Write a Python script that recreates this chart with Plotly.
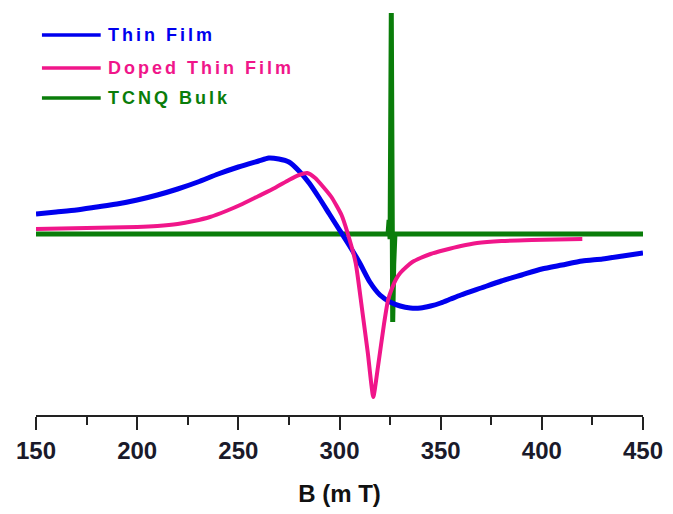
import plotly.graph_objects as go

# Thin Film (blue)
thin_B = [150, 160, 170, 180, 190, 200, 210, 220, 230, 240, 250, 260, 265, 270, 275, 280, 285, 290, 295, 300,
          305, 310, 315, 320, 325, 330, 335, 340, 345, 350, 355, 360, 370, 380, 390, 400, 410, 420, 430, 440, 450]
thin_I = [20, 22, 24, 27, 30, 34, 39, 45, 52, 60, 67, 73, 76, 75, 72, 63, 51, 36, 20, 4,
          -12, -29, -48, -61, -68, -72, -74, -74, -72, -69, -65, -61, -54, -47, -41, -35, -31, -27, -25, -22, -19]

# Doped Thin Film (pink)
doped_B = [150, 175, 200, 210, 220, 228, 236, 244, 252, 260, 268, 275, 280, 284, 288, 292, 296, 301, 304, 308,
           311, 314, 316.7, 319, 322, 324, 326, 328, 330, 333, 336, 340, 345, 352, 360, 368, 380, 395, 420]
doped_I = [5, 6, 7, 8, 10, 13, 17, 23, 30, 38, 46, 54, 59, 61, 56, 47, 37, 19, 1, -29,
           -73, -119, -163, -133, -90, -66, -54, -45, -39, -33, -28, -24, -20, -16, -12, -9, -7, -6, -5]

# TCNQ Bulk (green)
tcnq_B = [150, 324.0, 324.5, 325.0, 325.6, 326.3, 326.8, 327.4, 450]
tcnq_I = [0, 0, 14, -5, 221, -88, -30, 0, 0]

x_ticks = [150, 200, 250, 300, 350, 400, 450]

names = ["Thin Film", "Doped Thin Film", "TCNQ Bulk"]
colors = ["#0000ee", "#f0168a", "#0a7d0a"]

fig = go.Figure()
fig.add_trace(go.Scatter(x=tcnq_B, y=tcnq_I, mode="lines", line=dict(color=colors[2], width=5),
                         name=names[2], showlegend=False))
fig.add_trace(go.Scatter(x=thin_B, y=thin_I, mode="lines", line=dict(color=colors[0], width=5, shape="spline", smoothing=0.6),
                         name=names[0], showlegend=False))
fig.add_trace(go.Scatter(x=doped_B, y=doped_I, mode="lines", line=dict(color=colors[1], width=4, shape="spline", smoothing=0.5),
                         name=names[1], showlegend=False))

# manual legend
row_y = [0.938, 0.857, 0.783]
for nm, col, yy in zip(names, colors, row_y):
    fig.add_shape(type="line", xref="paper", yref="paper", x0=0.0098, x1=0.1066, y0=yy, y1=yy,
                  line=dict(color=col, width=3.5))
    fig.add_annotation(xref="paper", yref="paper", x=0.1148, y=yy, xanchor="left", yanchor="middle",
                       text=f"<span style='letter-spacing:3px'><b>{nm}</b></span>", showarrow=False,
                       font=dict(family="Liberation Sans, Arial", size=18, color=col))

fig.update_layout(
    width=673, height=514, autosize=False,
    margin=dict(l=36, r=27, t=10, b=99),
    plot_bgcolor="white", paper_bgcolor="white",
    showlegend=False,
    font=dict(family="Liberation Sans, Arial", color="#1a1a1a"),
)
fig.update_xaxes(
    range=[150, 450], tickvals=x_ticks, ticktext=[str(v) for v in x_ticks],
    showline=True, linecolor="#222", linewidth=2, mirror=False,
    ticks="outside", ticklen=13, tickwidth=2, tickcolor="#222",
    minor=dict(dtick=25, tick0=150, ticks="outside", ticklen=8, tickwidth=2, tickcolor="#222"),
    showgrid=False, zeroline=False,
    tickfont=dict(size=24, weight="bold", color="#1a1a2a"),
    title=dict(text="<b>B (m T)</b>", font=dict(size=24, color="#111"), standoff=22),
)
fig.update_yaxes(visible=False, range=[-181, 224])

fig.write_html("out.html")
